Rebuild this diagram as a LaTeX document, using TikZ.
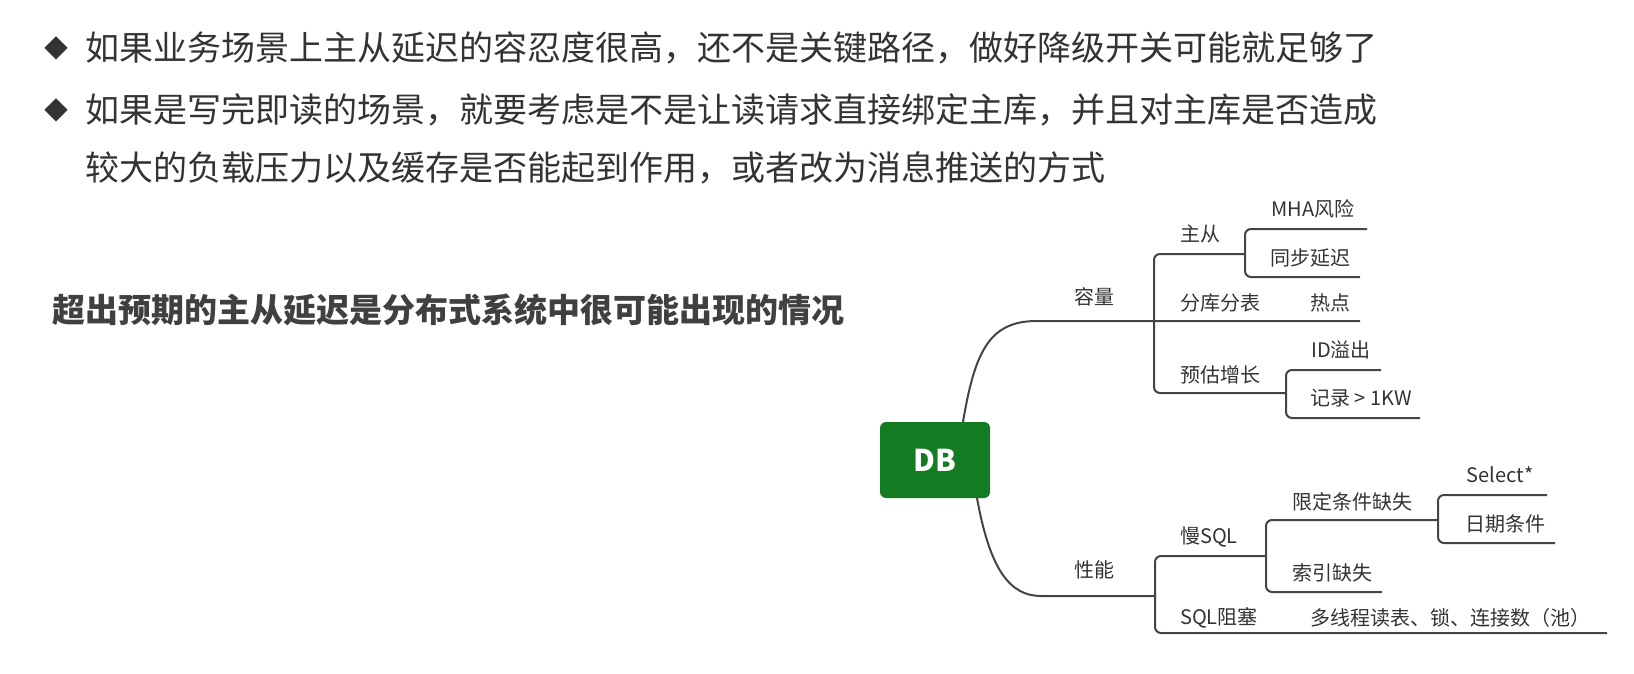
\documentclass[tikz,border=0pt]{standalone}
\usepackage{fontspec}
\setmainfont{Noto Sans CJK SC}
\definecolor{txt}{HTML}{333333}
\definecolor{ln}{HTML}{444444}
\definecolor{dbgreen}{HTML}{137C22}
\begin{document}
\begin{tikzpicture}[x=1pt,y=-1pt,
  big/.style={font=\fontsize{34}{40}\selectfont, text=txt, inner sep=0},
  lbl/.style={font=\fontsize{20}{24}\selectfont, text=txt, inner sep=0},
  br/.style={draw=ln, line width=2pt, rounded corners=6pt}]
\useasboundingbox (0,0) rectangle (1634,674);
% header text
\node[big, anchor=center, font=\fontsize{24}{24}\selectfont] (d1) at (57,48) {◆};
\node[big, anchor=west] (t1) at (85,48) {如果业务场景上主从延迟的容忍度很高，还不是关键路径，做好降级开关可能就足够了};
\node[big, anchor=center, font=\fontsize{24}{24}\selectfont] (d2) at (57,110) {◆};
\node[big, anchor=west] (t2) at (85,110) {如果是写完即读的场景，就要考虑是不是让读请求直接绑定主库，并且对主库是否造成};
\node[big, anchor=west] (t3) at (85,168) {较大的负载压力以及缓存是否能起到作用，或者改为消息推送的方式};
\node[big, anchor=west, font=\fontsize{33}{40}\selectfont\bfseries, text=black!75] (hd) at (52,310) {超出预期的主从延迟是分布式系统中很可能出现的情况};
% DB
\node[fill=dbgreen, rounded corners=6pt, minimum width=110pt, minimum height=76pt, text=white, font=\fontsize{30}{30}\selectfont\bfseries] (db) at (935,460) {DB};
% coordinates
\coordinate (dbt) at (963,422);
\coordinate (dbb) at (977,498);
% capacity branch
\draw[br] (dbt) .. controls (975,350) and (990,321) .. (1043,321) -- (1360,321);
\draw[br] (1245,254) -- (1154,254) -- (1154,393) -- (1286,393);
\draw[br] (1367,229) -- (1245,229) -- (1245,277) -- (1360,277);
\draw[br] (1381,370) -- (1286,370) -- (1286,418) -- (1420,418);
% performance branch
\draw[br] (dbb) .. controls (990,570) and (1010,596) .. (1047,596) -- (1155,596);
\draw[br] (1266,556) -- (1155,556) -- (1155,633) -- (1607,633);
\draw[br] (1438,520) -- (1266,520) -- (1266,592) -- (1382,592);
\draw[br] (1547,495) -- (1438,495) -- (1438,543) -- (1555,543);
% labels
\node[lbl] (rl) at (1094,297) {容量};
\node[lbl] (zc) at (1200,234) {主从};
\node[lbl] (mha) at (1313,209) {MHA风险};
\node[lbl] (tb) at (1310,258) {同步延迟};
\node[lbl] (fk) at (1220,303) {分库分表};
\node[lbl] (rd) at (1330,303) {热点};
\node[lbl] (yg) at (1220,375) {预估增长};
\node[lbl] (id) at (1341,350) {ID溢出};
\node[lbl, anchor=west] (jl) at (1310,398) {记录 > 1KW};
\node[lbl] (xn) at (1094,570) {性能};
\node[lbl, anchor=west] (ms) at (1180,537) {慢SQL};
\node[lbl, anchor=west] (zs) at (1180,618) {SQL阻塞};
\node[lbl] (xd) at (1352,502) {限定条件缺失};
\node[lbl] (sy) at (1332,573) {索引缺失};
\node[lbl] (se) at (1500,475) {Select*};
\node[lbl] (rq) at (1505,524) {日期条件};
\node[lbl] (dx) at (1450,618) {多线程读表、锁、连接数（池）};
\end{tikzpicture}
\end{document}
